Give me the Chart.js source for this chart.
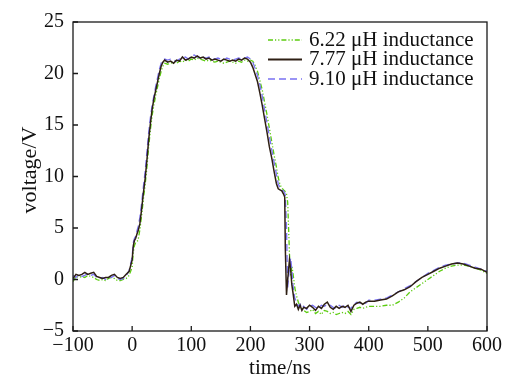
<!DOCTYPE html>
<html>
<head>
<meta charset="utf-8">
<script src="https://cdn.jsdelivr.net/npm/chart.js@4.4.1/dist/chart.umd.min.js"></script>
<style>
  html, body { margin: 0; padding: 0; background: #fff; }
  #wrap { width: 505px; height: 379px; }
</style>
</head>
<body>
<div id="wrap"><canvas id="chart" width="505" height="379"></canvas></div>
<script>
// time axis (ns) shared by all three traces
const TIME_NS = [
  -100, -95, -90, -85, -80, -75, -70, -65, -60, -55, -50, -45, -40, -35, -30, -25, -20, -15, -10, -5,
  0, 2, 4, 6, 8, 10, 13, 16, 19, 22, 25, 28, 31, 34, 37, 40, 43, 46, 49, 52, 55,
  60, 65, 70, 75, 80, 85, 90, 95, 100, 105, 110, 115, 120, 125, 130, 135, 140, 145, 150, 155, 160, 165, 170, 175, 180, 185, 190, 195, 200,
  204, 208, 212, 216, 220, 224, 228, 232, 236, 240, 244, 247, 250, 253, 256, 258, 259, 261, 263, 266, 268, 270, 272, 275, 278, 281, 284, 287, 290, 295, 300,
  305, 310, 315, 320, 325, 330, 335, 340, 345, 350, 355, 360, 365, 370, 375, 380, 385, 390, 395, 400,
  410, 420, 430, 440, 450, 460, 470, 480, 490, 500, 510, 520, 530, 540, 550, 560, 570, 580, 590, 600
];

// voltage (V), 6.22 uH
const V_622 = [
  -0.2, 0.3, 0.2, 0.3, 0.2, 0.4, 0.3, 0.2, 0.0, -0.1, 0.0, -0.1, 0.1, 0.2, 0.1, -0.1, -0.1, 0.0, 0.1, 0.4,
  1.2, 2.7, 3.3, 3.6, 3.7, 3.8, 4.8, 6.2, 7.8, 9.2, 10.9, 12.9, 14.6, 16.0, 17.0, 17.9, 18.7, 19.5, 20.2, 20.7, 21.0,
  20.9, 21.0, 21.1, 21.0, 21.2, 21.1, 21.3, 21.2, 21.4, 21.3, 21.5, 21.4, 21.3, 21.2, 21.3, 21.2, 21.1, 21.2, 21.1, 21.0, 21.1, 21.2, 21.1, 21.0, 21.2, 21.1, 21.3, 21.2, 21.3,
  21.2, 20.8, 20.2, 19.3, 18.4, 17.2, 16.0, 14.7, 13.4, 12.1, 10.9, 9.9, 9.2, 8.9, 8.7, 8.6, 8.5, 8.3, 7.5, 2.5, 0.3, 1.3, 0.6, -0.8, -1.6, -2.2, -2.6, -2.8, -3.0, -3.2, -3.1,
  -2.9, -3.3, -3.1, -3.4, -3.0, -3.1, -3.3, -3.2, -3.4, -3.3, -3.2, -3.3, -3.1, -3.4, -2.9, -2.8, -2.7, -2.8, -2.7, -2.6,
  -2.6, -2.6, -2.5, -2.5, -2.2, -1.8, -1.2, -0.8, -0.4, 0.0, 0.4, 0.8, 1.1, 1.3, 1.4, 1.4, 1.3, 1.1, 0.9, 0.6
];

// voltage (V), 7.77 uH
const V_777 = [
  0.1, 0.5, 0.4, 0.5, 0.7, 0.5, 0.6, 0.7, 0.3, 0.2, 0.1, 0.2, 0.2, 0.4, 0.5, 0.2, 0.1, 0.2, 0.5, 0.8,
  1.9, 3.3, 3.8, 4.0, 4.4, 4.7, 5.4, 6.8, 8.4, 9.8, 11.6, 13.6, 15.2, 16.6, 17.6, 18.4, 19.2, 20.0, 20.7, 21.1, 21.3,
  21.1, 21.2, 21.0, 21.3, 21.2, 21.6, 21.3, 21.4, 21.6, 21.5, 21.7, 21.5, 21.6, 21.4, 21.5, 21.3, 21.4, 21.3, 21.2, 21.4, 21.3, 21.2, 21.3, 21.2, 21.4, 21.3, 21.5, 21.4, 21.1,
  20.6, 19.9, 19.2, 18.1, 16.9, 15.6, 14.3, 12.9, 11.8, 10.5, 9.3, 8.8, 8.7, 8.6, 8.3, 8.0, 3.0, -1.5, 0.0, 1.9, 1.0, -0.5, -1.3, -2.6, -2.4, -2.9, -2.5, -3.0, -2.7, -2.8, -2.5,
  -2.7, -3.0, -2.6, -2.8, -2.4, -2.2, -2.7, -2.9, -2.6, -2.8, -2.6, -2.7, -2.5, -3.1, -2.5, -2.3, -2.2, -2.4, -2.2, -2.1,
  -2.1, -2.0, -1.9, -1.6, -1.2, -1.0, -0.7, -0.2, 0.2, 0.5, 0.8, 1.1, 1.3, 1.5, 1.6, 1.5, 1.3, 1.1, 1.0, 0.7
];

// voltage (V), 9.10 uH
const V_910 = [
  0.4, 0.2, 0.5, 0.3, 0.4, 0.6, 0.4, 0.5, 0.2, 0.1, 0.2, 0.0, 0.3, 0.2, 0.4, 0.1, 0.0, 0.1, 0.3, 0.9,
  2.2, 3.6, 4.0, 4.2, 4.7, 5.1, 6.0, 7.4, 9.0, 10.5, 12.4, 14.3, 15.8, 17.0, 17.9, 18.8, 19.6, 20.4, 21.0, 21.3, 21.4,
  21.3, 21.4, 21.3, 21.2, 21.4, 21.5, 21.6, 21.4, 21.7, 21.8, 21.6, 21.7, 21.6, 21.5, 21.6, 21.5, 21.4, 21.5, 21.4, 21.3, 21.5, 21.4, 21.3, 21.4, 21.5, 21.4, 21.5, 21.6, 21.4,
  21.1, 20.5, 19.8, 18.9, 17.8, 16.5, 15.2, 13.9, 12.6, 11.4, 10.2, 9.3, 8.9, 8.7, 8.6, 8.4, 8.2, 5.0, -0.8, 1.2, 2.1, 1.0, -0.6, -1.8, -2.2, -2.6, -2.4, -2.8, -2.6, -2.9, -2.6,
  -2.5, -2.7, -2.8, -2.5, -2.6, -2.4, -2.5, -2.7, -2.8, -2.5, -2.7, -2.4, -2.7, -2.8, -2.4, -2.2, -2.3, -2.2, -2.3, -2.0,
  -2.0, -1.9, -1.8, -1.5, -1.2, -0.9, -0.6, -0.2, 0.2, 0.6, 0.9, 1.2, 1.4, 1.5, 1.6, 1.6, 1.4, 1.2, 1.0, 0.8
];

const SERIES_LABELS = ["6.22 μH inductance", "7.77 μH inductance", "9.10 μH inductance"];
const X_TICKS = [-100, 0, 100, 200, 300, 400, 500, 600];
const Y_TICKS = [-5, 0, 5, 10, 15, 20, 25];
const X_TITLE = "time/ns";
const Y_TITLE = "voltage/V";

const SERIF = "'Liberation Serif', 'Times New Roman', serif";

const toPoints = (ys) => TIME_NS.map((t, i) => ({ x: t, y: ys[i] }));
const minus = (v) => String(v).replace("-", "\u2212");

const frameAndLegend = {
  id: "frameAndLegend",
  afterDraw(chart) {
    const { ctx, chartArea: a, scales } = chart;
    ctx.save();

    // box
    ctx.strokeStyle = "#1a1a1a";
    ctx.lineWidth = 1.3;
    ctx.setLineDash([]);
    ctx.strokeRect(a.left, a.top, a.right - a.left, a.bottom - a.top);

    // inward ticks
    ctx.beginPath();
    for (const t of scales.x.ticks) {
      const px = scales.x.getPixelForValue(t.value);
      ctx.moveTo(px, a.bottom);
      ctx.lineTo(px, a.bottom - 5);
    }
    for (const t of scales.y.ticks) {
      const py = scales.y.getPixelForValue(t.value);
      ctx.moveTo(a.left, py);
      ctx.lineTo(a.left + 5, py);
    }
    ctx.stroke();

    // axis titles
    ctx.fillStyle = "#111";
    ctx.font = "21px " + SERIF;
    ctx.textAlign = "center";
    ctx.textBaseline = "middle";
    ctx.fillText(X_TITLE, (a.left + a.right) / 2, 368);
    ctx.save();
    ctx.translate(30, 170);
    ctx.rotate(-Math.PI / 2);
    ctx.font = "22px " + SERIF;
    ctx.fillText(Y_TITLE, 0, 0);
    ctx.restore();

    // legend
    ctx.font = "21px " + SERIF;
    ctx.textAlign = "left";
    chart.data.datasets.forEach((ds, i) => {
      const y = 40 + i * 19.5;
      ctx.strokeStyle = ds.borderColor;
      ctx.lineWidth = ds.borderWidth + 0.3;
      ctx.setLineDash(ds.borderDash || []);
      ctx.beginPath();
      ctx.moveTo(268, y);
      ctx.lineTo(302, y);
      ctx.stroke();
      ctx.setLineDash([]);
      ctx.fillStyle = "#111";
      ctx.fillText(ds.label, 309, y);
    });

    ctx.restore();
  }
};

const chart = new Chart(document.getElementById("chart"), {
  type: "scatter",
  data: {
    datasets: [
      {
        label: SERIES_LABELS[0],
        data: toPoints(V_622),
        borderColor: "#5ccc10",
        borderWidth: 1.3,
        borderDash: [5, 2, 1.2, 2, 1.2, 2],
        order: 3
      },
      {
        label: SERIES_LABELS[1],
        data: toPoints(V_777),
        borderColor: "#2e1f14",
        borderWidth: 1.5,
        order: 1
      },
      {
        label: SERIES_LABELS[2],
        data: toPoints(V_910),
        borderColor: "#7a72f2",
        borderWidth: 1.3,
        borderDash: [7, 4],
        order: 2
      }
    ].map(ds => Object.assign({ showLine: true, pointRadius: 0, tension: 0, fill: false }, ds))
  },
  options: {
    responsive: false,
    animation: false,
    devicePixelRatio: 1,
    layout: { padding: { top: 22, right: 17, left: 0, bottom: 0 } },
    plugins: { legend: { display: false }, tooltip: { enabled: false } },
    scales: {
      x: {
        type: "linear",
        min: -100,
        max: 600,
        afterBuildTicks: (s) => { s.ticks = X_TICKS.map(v => ({ value: v })); },
        afterFit: (s) => { s.height = 48; },
        grid: { display: false, drawTicks: false },
        border: { display: false },
        ticks: {
          padding: 3,
          color: "#111",
          font: { family: SERIF, size: 20 },
          maxRotation: 0,
          autoSkip: false,
          callback: (v) => minus(v)
        }
      },
      y: {
        type: "linear",
        min: -5,
        max: 25,
        afterBuildTicks: (s) => { s.ticks = Y_TICKS.map(v => ({ value: v })); },
        afterFit: (s) => { s.width = 73; },
        grid: { display: false, drawTicks: false },
        border: { display: false },
        ticks: {
          padding: 9,
          color: "#111",
          font: { family: SERIF, size: 20 },
          autoSkip: false,
          callback: (v) => minus(v)
        }
      }
    }
  },
  plugins: [frameAndLegend]
});
</script>
</body>
</html>
